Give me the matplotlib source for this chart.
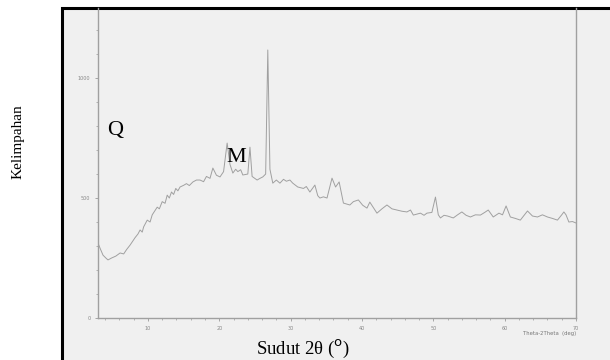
import matplotlib
matplotlib.use('Agg')
import matplotlib.pyplot as plt
from matplotlib.patches import Rectangle
from matplotlib.ticker import MultipleLocator

# 2-theta positions (deg) and intensity
two_theta = [3.0, 3.3, 3.7, 4.1, 4.4, 4.9, 5.5, 6.1, 6.6, 7.0, 7.5, 8.2, 8.6, 8.9, 9.2,
             9.4, 9.9, 10.3, 10.6, 11.3, 11.6, 12.0, 12.4, 12.7, 13.0, 13.3, 13.6,
             13.9, 14.2, 14.5, 15.0, 15.4, 15.8, 16.3, 16.8, 17.3, 17.8, 18.2, 18.7,
             19.1, 19.6, 20.1, 20.6, 21.1, 21.5, 21.9, 22.3, 22.6, 23.0, 23.3, 24.0,
             24.3, 24.6, 25.3, 25.7, 26.1, 26.5, 26.8, 27.1, 27.5, 28.0, 28.5, 29.0,
             29.4, 29.9, 30.3, 31.0, 31.8, 32.2, 32.7, 33.4, 33.8, 34.1, 34.6, 35.1,
             35.8, 36.3, 36.8, 37.4, 38.3, 38.8, 39.5, 40.1, 40.7, 41.1, 41.6, 42.1,
             42.8, 43.5, 44.2, 44.9, 45.6, 46.3, 46.8, 47.2, 48.2, 48.7, 49.1, 49.8,
             50.3, 50.7, 51.0, 51.5, 52.0, 52.8, 53.4, 54.0, 54.6, 55.2, 55.9, 56.6,
             57.2, 57.7, 58.4, 59.2, 59.7, 60.2, 60.8, 61.5, 62.2, 63.2, 63.9, 64.6,
             65.3, 66.0, 66.7, 67.4, 68.0, 68.3, 68.6, 69.0, 69.5, 70.0]
intensity = [312, 290, 262, 250, 242, 250, 258, 271, 267, 285, 304, 335, 350, 367, 358,
             380, 408, 400, 430, 462, 455, 485, 478, 512, 500, 525, 515,
             540, 530, 546, 553, 560, 552, 567, 575, 575, 568, 590, 582,
             625, 595, 588, 610, 729, 640, 604, 620, 610, 618, 596, 600,
             712, 590, 575, 582, 588, 600, 1117, 620, 562, 575, 562, 578,
             570, 575, 562, 546, 540, 548, 525, 554, 510, 500, 505, 500,
             583, 546, 567, 479, 471, 485, 492, 470, 458, 483, 460, 437,
             455, 471, 455, 450, 445, 442, 450, 429, 437, 428, 437, 440,
             504, 430, 417, 428, 425, 417, 430, 442, 428, 421, 430, 429,
             440, 450, 421, 437, 430, 467, 421, 415, 408, 446, 425, 421,
             430, 421, 415, 408, 430, 442, 430, 400, 402, 396]

x_ticks = [10, 20, 30, 40, 50, 60, 70]
y_ticks = [0, 500, 1000]

W, H = 610, 360
fig = plt.figure(figsize=(W / 100, H / 100), dpi=100)
fig.patch.set_facecolor('white')

# framed grey panel behind the scan
fig.patches.append(Rectangle((62 / W, -0.05), 1.0, 1 - 8 / H + 0.05,
                             transform=fig.transFigure, facecolor='#f0f0f0',
                             edgecolor='black', lw=2.2, zorder=-5))

ax = fig.add_axes([98 / W, 1 - 318 / H, (576 - 98) / W, (318 - 8) / H], zorder=2)
ax.set_facecolor('none')
ax.plot(two_theta, intensity, color='#a0a0a0', lw=0.7)
ax.set_xlim(3, 70)
ax.set_ylim(0, 1292)
ax.set_xticks(x_ticks)
ax.set_yticks(y_ticks)
ax.xaxis.set_minor_locator(MultipleLocator(2))
ax.yaxis.set_minor_locator(MultipleLocator(100))
ax.tick_params(labelsize=3.5, colors='#888888', length=2, width=0.5)
ax.tick_params(which='minor', length=1.2, width=0.5, colors='#999999')
ax.spines['top'].set_visible(False)
for s in ['left', 'right', 'bottom']:
    ax.spines[s].set_color('#a0a0a0')
    ax.spines[s].set_linewidth(1.0)

ax.text(70, -65, 'Theta-2Theta  (deg)', fontsize=3.8, color='#777777', ha='right', va='center')

serif = 'Liberation Serif'
fig.text(115 / W, 1 - 131 / H, 'Q', fontsize=16, family=serif, ha='center', va='center')
fig.text(236 / W, 1 - 158 / H, 'M', fontsize=16, family=serif, ha='center', va='center')
fig.text(303 / W, 1 - 349 / H, r'Sudut 2θ ($^{\mathrm{o}}$)', fontsize=13.5, family=serif,
         ha='center', va='center')
fig.text(18 / W, 1 - 142 / H, 'Kelimpahan', fontsize=11, family=serif, rotation=90,
         ha='center', va='center')

fig.savefig('out.png', dpi=100)
